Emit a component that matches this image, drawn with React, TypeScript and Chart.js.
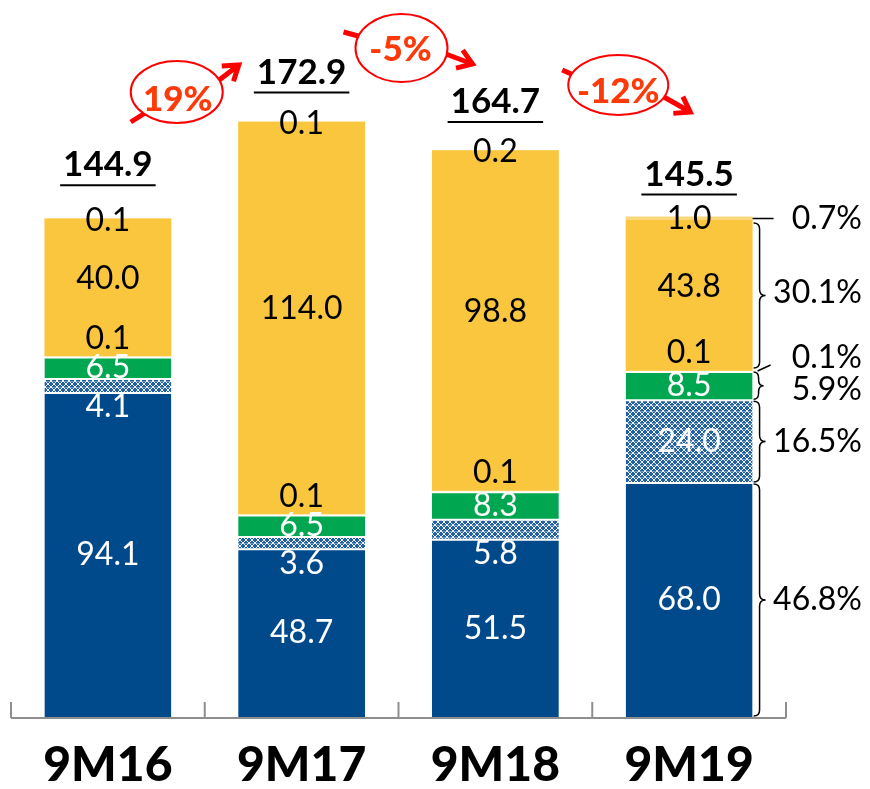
import React, { useEffect, useRef } from 'react';
import { Chart, registerables } from 'chart.js';

Chart.register(...registerables);

// ---------- data ----------
const categories = ['9M16', '9M17', '9M18', '9M19'];
const coreValues = [94.1, 48.7, 51.5, 68.0];
const hatchedValues = [4.1, 3.6, 5.8, 24.0];
const greenValues = [6.5, 6.5, 8.3, 8.5];
const yellowLowValues = [0.1, 0.1, 0.1, 0.1];
const yellowMainValues = [40.0, 114.0, 98.8, 43.8];
const yellowTopValues = [0.1, 0.1, 0.2, 1.0];
const totals = [144.9, 172.9, 164.7, 145.5];
const growthLabels = ['19%', '-5%', '-12%'];
// shares of the last bar, bottom to top
const shareLabels = ['46.8%', '16.5%', '5.9%', '0.1%', '30.1%', '0.7%'];

// ---------- style ----------
const BLUE = '#004A8C';
const GREEN = '#00A650';
const YELLOW = '#F9C63D';
const PALE_YELLOW = '#FAD77A';
const RED = '#FF0000';
const RED_TEXT = '#FF3A0A';
const FONT = 'Lato, "Open Sans", sans-serif';
const TOTAL_GAP = [53, 49, 48, 42];

// growth annotation layout: relative to the midpoint between two bars (x), absolute y
const ANNOT = [
  { cx: -28, cy: 92, rx: 46, ry: 31, tx: -27, ty: 100, tail: [[-74, 122], [-58, 112]], head: [[8, 85], [34, 65]] },
  { cx: 3, cy: 48, rx: 46, ry: 34, tx: 2, ty: 50, tail: [[-55, 32], [-33, 38]], head: [[42, 52], [74, 64]] },
  { cx: 26, cy: 85, rx: 50, ry: 30, tx: 26, ty: 92, tail: [[-30, 70], [-12, 78]], head: [[63, 92], [98, 112]] },
];

function makeHatch(): CanvasPattern | string {
  const c = document.createElement('canvas');
  c.width = 6;
  c.height = 6;
  const g = c.getContext('2d');
  if (!g) return '#3F6FA8';
  g.fillStyle = '#22609F';
  g.fillRect(0, 0, 6, 6);
  g.fillStyle = 'rgba(255,255,255,0.9)';
  for (let i = 0; i < 6; i++) {
    g.fillRect(i, i, 1, 1);
    g.fillRect(5 - i, i, 1, 1);
  }
  g.fillStyle = 'rgba(255,255,255,0.35)';
  g.fillRect(0, 3, 6, 1);
  const p = g.createPattern(c, 'repeat');
  return p || '#3F6FA8';
}

function drawBrace(ctx: CanvasRenderingContext2D, x: number, y1: number, y2: number, w: number) {
  const mid = (y1 + y2) / 2;
  const h = w / 2;
  const r = Math.min(6, (y2 - y1) / 4);
  ctx.beginPath();
  ctx.moveTo(x, y1);
  ctx.quadraticCurveTo(x + h, y1, x + h, y1 + r);
  ctx.lineTo(x + h, mid - r);
  ctx.quadraticCurveTo(x + h, mid, x + w, mid);
  ctx.quadraticCurveTo(x + h, mid, x + h, mid + r);
  ctx.lineTo(x + h, y2 - r);
  ctx.quadraticCurveTo(x + h, y2, x, y2);
  ctx.stroke();
}

function drawArrowHead(ctx: CanvasRenderingContext2D, x0: number, y0: number, x1: number, y1: number) {
  const a = Math.atan2(y1 - y0, x1 - x0);
  const len = 17;
  ctx.beginPath();
  ctx.moveTo(x1 - len * Math.cos(a - 0.6), y1 - len * Math.sin(a - 0.6));
  ctx.lineTo(x1, y1);
  ctx.lineTo(x1 - len * Math.cos(a + 0.6), y1 - len * Math.sin(a + 0.6));
  ctx.stroke();
}

const overlayPlugin = {
  id: 'overlay',
  afterDatasetsDraw(chart: any) {
    const ctx: CanvasRenderingContext2D = chart.ctx;
    const area = chart.chartArea;
    const xs = chart.scales.x;
    ctx.save();

    // segment labels
    ctx.textAlign = 'center';
    ctx.textBaseline = 'middle';
    ctx.font = `32px ${FONT}`;
    chart.data.datasets.forEach((ds: any, d: number) => {
      const meta = chart.getDatasetMeta(d);
      meta.data.forEach((el: any, i: number) => {
        const v = ds.data[i];
        const top = el.y;
        const base = el.base;
        let y = (top + base) / 2;
        let color = '#ffffff';
        if (d === 1 && base - top < 30) y = base + 14;
        if (d === 3) { y = base - 18; color = '#000000'; }
        if (d === 4) { y = (top + base) / 2 - 9; color = '#000000'; }
        if (d === 5) { y = top + 2; color = '#000000'; }
        ctx.fillStyle = color;
        ctx.fillText(v.toFixed(1), el.x, y);
      });
    });

    // totals, bold + underline
    const topMeta = chart.getDatasetMeta(chart.data.datasets.length - 1);
    ctx.font = `bold 35px ${FONT}`;
    ctx.fillStyle = '#000000';
    ctx.strokeStyle = '#000000';
    ctx.lineWidth = 2;
    totals.forEach((t, i) => {
      const el = topMeta.data[i];
      const y = el.y - TOTAL_GAP[i];
      const txt = t.toFixed(1);
      ctx.fillText(txt, el.x, y);
      const w = ctx.measureText(txt).width + 6;
      ctx.beginPath();
      ctx.moveTo(el.x - w / 2, y + 20);
      ctx.lineTo(el.x + w / 2, y + 20);
      ctx.stroke();
    });

    // axis line + boundary ticks
    const x0 = xs.getPixelForValue(0);
    const x1 = xs.getPixelForValue(1);
    const half = (x1 - x0) / 2;
    ctx.strokeStyle = '#8E8E8E';
    ctx.lineWidth = 2;
    ctx.beginPath();
    ctx.moveTo(area.left, area.bottom + 1);
    ctx.lineTo(area.right, area.bottom + 1);
    for (let i = 0; i <= categories.length; i++) {
      const bx = i < categories.length ? xs.getPixelForValue(i) - half : xs.getPixelForValue(i - 1) + half;
      ctx.moveTo(bx, area.bottom + 1);
      ctx.lineTo(bx, area.bottom - 15);
    }
    ctx.stroke();

    // category labels
    ctx.font = `900 48px ${FONT}`;
    ctx.fillStyle = '#000000';
    categories.forEach((c, i) => {
      ctx.fillText(c, xs.getPixelForValue(i), area.bottom + 49);
    });

    // braces & shares on the last bar
    const last = categories.length - 1;
    const segs = [0, 1, 2, 3, 4, 5].map((d) => chart.getDatasetMeta(d).data[last]);
    const right = segs[0].x + segs[0].width / 2;
    const bx = right + 1;
    ctx.strokeStyle = '#000000';
    ctx.lineWidth = 1.5;
    drawBrace(ctx, bx, segs[0].y + 1, segs[0].base - 1, 12);
    drawBrace(ctx, bx, segs[1].y + 1, segs[1].base - 1, 12);
    drawBrace(ctx, bx, segs[2].y + 1, segs[2].base - 1, 10);
    drawBrace(ctx, bx, segs[4].y + 3, segs[3].base - 3, 12);
    ctx.beginPath();
    ctx.moveTo(bx + 4, segs[3].base);
    ctx.lineTo(bx + 17, segs[3].base - 6);
    ctx.moveTo(right, segs[5].y + 2);
    ctx.lineTo(right + 21, segs[5].y + 2);
    ctx.stroke();

    ctx.font = `32px ${FONT}`;
    ctx.textAlign = 'right';
    const rx = chart.width - 8;
    const shareY = [
      (segs[0].y + segs[0].base) / 2,
      (segs[1].y + segs[1].base) / 2,
      (segs[2].y + segs[2].base) / 2 + 4,
      segs[3].base - 13,
      (segs[4].y + segs[4].base) / 2 - 3,
      segs[5].y + 2,
    ];
    shareLabels.forEach((s, k) => ctx.fillText(s, rx, shareY[k]));

    // growth annotations
    ctx.textAlign = 'center';
    ANNOT.forEach((a, k) => {
      const mid = (xs.getPixelForValue(k) + xs.getPixelForValue(k + 1)) / 2;
      ctx.strokeStyle = RED;
      ctx.lineWidth = 5;
      ctx.lineCap = 'butt';
      ctx.beginPath();
      ctx.moveTo(mid + a.tail[0][0], a.tail[0][1]);
      ctx.lineTo(mid + a.tail[1][0], a.tail[1][1]);
      ctx.moveTo(mid + a.head[0][0], a.head[0][1]);
      ctx.lineTo(mid + a.head[1][0], a.head[1][1]);
      ctx.stroke();
      drawArrowHead(ctx, mid + a.head[0][0], a.head[0][1], mid + a.head[1][0], a.head[1][1]);
      ctx.beginPath();
      ctx.ellipse(mid + a.cx, a.cy, a.rx, a.ry, 0, 0, Math.PI * 2);
      ctx.fillStyle = '#ffffff';
      ctx.fill();
      ctx.lineWidth = 2;
      ctx.stroke();
      ctx.fillStyle = RED_TEXT;
      ctx.font = `900 35px ${FONT}`;
      ctx.fillText(growthLabels[k], mid + a.tx, a.ty);
    });

    ctx.restore();
  },
};

export default function App() {
  const ref = useRef<HTMLCanvasElement>(null);
  useEffect(() => {
    const canvas = ref.current;
    if (!canvas) return;
    const hatch = makeHatch();
    const white = '#ffffff';
    const chart = new Chart(canvas, {
      type: 'bar',
      data: {
        labels: categories,
        datasets: [
          { label: 'core', data: coreValues, backgroundColor: BLUE, borderColor: white, borderWidth: { top: 1, bottom: 0, left: 0, right: 0 }, borderSkipped: false },
          { label: 'hatched', data: hatchedValues, backgroundColor: hatch as any, borderColor: white, borderWidth: { top: 1, bottom: 1, left: 0, right: 0 }, borderSkipped: false },
          { label: 'green', data: greenValues, backgroundColor: GREEN, borderColor: white, borderWidth: { top: 2, bottom: 1, left: 0, right: 0 }, borderSkipped: false },
          { label: 'yellowLow', data: yellowLowValues, backgroundColor: YELLOW, borderWidth: 0 },
          { label: 'yellowMain', data: yellowMainValues, backgroundColor: YELLOW, borderWidth: 0 },
          { label: 'yellowTop', data: yellowTopValues, backgroundColor: [YELLOW, YELLOW, YELLOW, PALE_YELLOW], borderWidth: 0 },
        ],
      } as any,
      options: {
        responsive: false,
        animation: false,
        devicePixelRatio: 1,
        layout: { padding: { left: 11, right: 84, top: 1, bottom: 72 } },
        datasets: { bar: { categoryPercentage: 1, barPercentage: 0.655 } },
        scales: {
          x: { stacked: true, display: false, offset: true },
          y: { stacked: true, display: false, min: 0, max: 208 },
        },
        plugins: { legend: { display: false }, tooltip: { enabled: false } },
      } as any,
      plugins: [overlayPlugin],
    });
    let alive = true;
    const fonts = (document as any).fonts;
    if (fonts && fonts.load) {
      Promise.all([fonts.load(`900 48px Lato`), fonts.load(`bold 35px Lato`), fonts.load(`32px Lato`)]).then(() => {
        if (alive) chart.update();
      }).catch(() => {});
    }
    return () => {
      alive = false;
      chart.destroy();
    };
  }, []);
  return (
    <div style={{ position: 'absolute', left: 0, top: 0, width: 870, height: 789, background: '#ffffff' }}>
      <canvas ref={ref} width={870} height={789} style={{ display: 'block' }} />
    </div>
  );
}
